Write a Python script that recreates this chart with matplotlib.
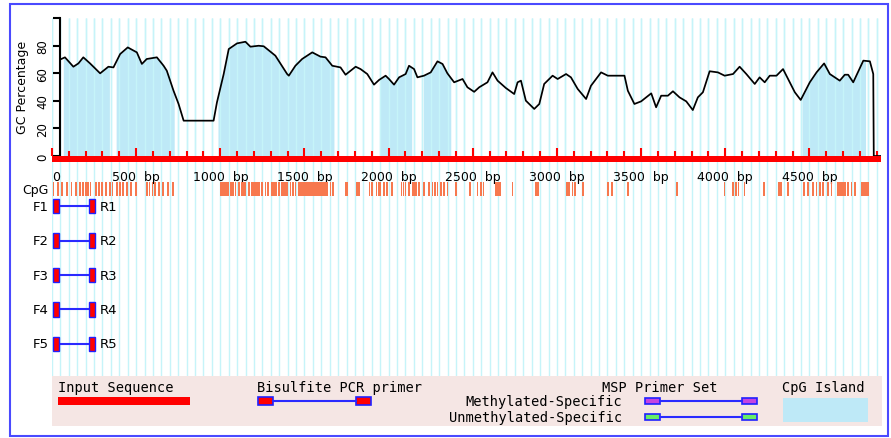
import numpy as np
import matplotlib
matplotlib.use("Agg")
import matplotlib.pyplot as plt
from matplotlib.patches import Rectangle

# ---- data ----
seq_len = 4925

# (position bp, GC %) along the sliding window
gc_profile = [
    (50, 70.0), (77, 71.5), (127, 64.7), (157, 67.1), (186, 71.5), (226, 67.1),
    (286, 59.9), (335, 64.7), (365, 64.2), (405, 73.9), (450, 78.7), (504, 75.1),
    (534, 66.7), (563, 70.3), (623, 71.5), (663, 65.4), (682, 61.8), (722, 47.3),
    (752, 37.7), (782, 25.6), (960, 25.6), (980, 38.9), (1020, 59.4), (1050, 77.5),
    (1099, 81.6), (1149, 82.8), (1179, 79.2), (1228, 79.9), (1258, 79.5), (1327, 72.7),
    (1397, 59.4), (1407, 58.2), (1446, 65.4), (1486, 70.3), (1546, 75.1), (1595, 72.0),
    (1625, 71.5), (1665, 65.4), (1714, 64.2), (1744, 58.9), (1804, 64.7), (1833, 63.0),
    (1873, 59.4), (1913, 51.7), (1943, 55.1), (1982, 58.2), (2002, 55.8), (2032, 51.7),
    (2062, 57.0), (2101, 59.4), (2121, 65.4), (2151, 63.0), (2171, 57.0), (2210, 58.2),
    (2250, 60.6), (2290, 68.6), (2320, 66.7), (2349, 59.9), (2389, 53.4), (2439, 55.8),
    (2468, 49.8), (2508, 46.5), (2538, 49.8), (2587, 53.4), (2617, 60.6), (2647, 54.6),
    (2696, 49.3), (2746, 44.9), (2766, 53.4), (2786, 54.6), (2815, 40.1), (2865, 34.1),
    (2895, 37.7), (2924, 52.2), (2974, 58.2), (3004, 55.8), (3054, 59.4), (3083, 57.0),
    (3123, 48.6), (3173, 41.3), (3202, 50.9), (3262, 60.6), (3302, 58.2), (3341, 58.2),
    (3401, 58.2), (3421, 47.3), (3460, 37.7), (3500, 39.6), (3560, 45.4), (3589, 35.3),
    (3619, 43.7), (3659, 43.7), (3689, 46.9), (3728, 42.5), (3768, 39.6), (3807, 33.3),
    (3837, 42.5), (3867, 46.2), (3907, 61.4), (3956, 60.6), (3996, 58.2), (4046, 59.4),
    (4085, 64.7), (4125, 59.4), (4175, 52.2), (4204, 57.0), (4234, 53.4), (4264, 58.2),
    (4304, 58.2), (4343, 63.0), (4373, 55.8), (4413, 46.2), (4448, 40.6), (4502, 53.4),
    (4542, 60.6), (4587, 67.1), (4621, 59.4), (4680, 54.6), (4710, 58.9), (4730, 58.9),
    (4760, 53.4), (4820, 69.1), (4859, 68.6), (4879, 59.4), (4882, 0.0), (4925, 0.0),
]

cpg_islands = [(67, 341), (381, 726), (986, 1675), (1948, 2137), (2206, 2369), (4456, 4833)]

cpg_sites = [
    8, 35, 60, 90, 115, 143, 167, 185, 202, 215, 228, 262, 280, 298, 322, 345, 360,
    387, 405, 423, 446, 470, 500, 565, 580, 597, 612, 637, 661, 690, 720,
    1006, 1016, 1026, 1036, 1046, 1065, 1075, 1090, 1109, 1129, 1139, 1150, 1169,
    1185, 1195, 1205, 1218, 1228, 1248, 1268, 1284, 1308, 1318, 1330, 1347, 1363,
    1373, 1385, 1397, 1417, 1430, 1446, 1466, 1476, 1486, 1496, 1506, 1516, 1526,
    1536, 1546, 1556, 1566, 1576, 1586, 1596, 1606, 1616, 1625, 1635, 1655, 1669,
    1744, 1754, 1813, 1823, 1887, 1903, 1927, 1942, 1952, 1972, 1992, 2018, 2077,
    2089, 2101, 2121, 2141, 2151, 2161, 2181, 2210, 2240, 2260, 2276, 2290, 2309,
    2329, 2349, 2399, 2485, 2528, 2548, 2564, 2637, 2651, 2663, 2736, 2875, 2889,
    3060, 3073, 3093, 3107, 3153, 3302, 3325, 3421, 3714, 3996, 4046, 4065, 4079,
    4115, 4228, 4318, 4330, 4373, 4468, 4492, 4522, 4542, 4561, 4581, 4611, 4631,
    4671, 4681, 4690, 4700, 4710, 4730, 4750, 4770, 4809, 4819, 4829, 4839, 4849,
]

primer_fwd = ["F1", "F2", "F3", "F4", "F5"]
primer_rev = ["R1", "R2", "R3", "R4", "R5"]
fwd_start = [6, 6, 6, 6, 6]
fwd_end = [42, 42, 42, 42, 42]
rev_start = [220, 220, 220, 220, 220]
rev_end = [256, 256, 256, 256, 256]

x_ticks = [0, 500, 1000, 1500, 2000, 2500, 3000, 3500, 4000, 4500]
x_tick_labels = ["0", "500  bp", "1000  bp", "1500  bp", "2000  bp", "2500  bp",
                 "3000  bp", "3500  bp", "4000  bp", "4500  bp"]
y_ticks = [0, 20, 40, 60, 80, 100]
y_tick_labels = ["0", "20", "40", "60", "80", ""]

# ---- colours ----
GRID = "#c6f4f9"
ISLAND = "#bee9f7"
CPG = "#f7784e"
LEGEND_BG = "#f5e6e4"

W, H = 891, 439
X0, X1 = 52, 881


def px_rect(x0, y0, x1, y1):
    return [x0 / W, 1 - y1 / H, (x1 - x0) / W, (y1 - y0) / H]


fig = plt.figure(figsize=(W / 100, H / 100), dpi=100)
fig.patch.set_facecolor("white")

grid_x = np.arange(0, seq_len, 50)

# background grid over the whole track area
ax_bg = fig.add_axes(px_rect(X0, 19, X1, 377))
ax_bg.set_xlim(0, seq_len)
ax_bg.set_ylim(0, 1)
ax_bg.vlines(grid_x, 0, 1, color=GRID, lw=1.0)
ax_bg.axis("off")

# GC content plot
gc_pos, gc_val = map(np.array, zip(*gc_profile))
ax_gc = fig.add_axes(px_rect(X0, 19, X1, 157))
ax_gc.patch.set_alpha(0)
ax_gc.set_xlim(0, seq_len)
ax_gc.set_ylim(0, 100)

edges = [e for isl in cpg_islands for e in isl]
xs = np.union1d(gc_pos, edges)
ys = np.interp(xs, gc_pos, gc_val)
for s, e in cpg_islands:
    m = (xs >= s) & (xs <= e)
    ax_gc.fill_between(xs[m], ys[m], 0, color=ISLAND, lw=0, zorder=1)
ax_gc.vlines(grid_x, 0, 100, color=GRID, lw=1.0, zorder=1.5)
ax_gc.plot(gc_pos, gc_val, color="black", lw=1.25, zorder=3)

for side in ["top", "right", "bottom"]:
    ax_gc.spines[side].set_visible(False)
ax_gc.spines["left"].set_position(("data", 50))
ax_gc.spines["left"].set_linewidth(1.5)

ax_gc.set_yticks(y_ticks)
ax_gc.set_yticklabels(y_tick_labels)
ax_gc.tick_params(axis="y", length=5, width=1.5, pad=3, labelsize=8.5, labelrotation=90)
for lab in ax_gc.get_yticklabels():
    lab.set_va("center")

ax_gc.set_xticks(x_ticks)
ax_gc.set_xticklabels(x_tick_labels)
ax_gc.set_xticks(np.arange(0, seq_len, 100), minor=True)
ax_gc.tick_params(axis="x", which="major", direction="in", length=5.5, width=1.5,
                  color="red", pad=10, labelsize=9)
ax_gc.tick_params(axis="x", which="minor", direction="in", length=3.5, width=1.5,
                  color="red")
ax_gc.get_xticklabels()[0].set_ha("left")

fig.text(23 / W, 1 - 87 / H, "GC Percentage", rotation=90, ha="center", va="center",
         fontsize=9)

# input sequence bar
ax_seq = fig.add_axes(px_rect(X0, 157, X1, 163))
ax_seq.barh([0], [seq_len], left=0, height=1, color="red")
ax_seq.set_xlim(0, seq_len)
ax_seq.set_ylim(-0.5, 0.5)
ax_seq.axis("off")

# CpG sites
ax_cpg = fig.add_axes(px_rect(X0, 183, X1, 197))
ax_cpg.bar(cpg_sites, 1, width=10, color=CPG, lw=0)
ax_cpg.set_xlim(0, seq_len)
ax_cpg.set_ylim(0, 1)
ax_cpg.axis("off")
ax_cpg.text(-0.004, 0.45, "CpG", transform=ax_cpg.transAxes, ha="right", va="center",
            fontsize=9)

# bisulfite primers
rows = np.arange(len(primer_fwd))
ax_pr = fig.add_axes(px_rect(X0, 190, X1, 362))
ax_pr.set_xlim(0, seq_len)
ax_pr.set_ylim(len(rows) - 0.5, -0.5)
ax_pr.axis("off")
ax_pr.hlines(rows, fwd_end, rev_start, color="#2a2aff", lw=1.5, zorder=1)
ax_pr.barh(rows, np.subtract(fwd_end, fwd_start), left=fwd_start, height=0.42,
           color="red", edgecolor="#2020ff", lw=1, zorder=2)
ax_pr.barh(rows, np.subtract(rev_end, rev_start), left=rev_start, height=0.42,
           color="red", edgecolor="#2020ff", lw=1, zorder=2)
for r, f, fs, rv, re in zip(rows, primer_fwd, fwd_start, primer_rev, rev_end):
    ax_pr.annotate(f, (fs, r), xytext=(-3, 0), textcoords="offset points",
                   ha="right", va="center", fontsize=9.5)
    ax_pr.annotate(rv, (re, r), xytext=(3, 0), textcoords="offset points",
                   ha="left", va="center", fontsize=9.5)

# legend panel (pixel coordinates)
ax_leg = fig.add_axes(px_rect(52, 377, 882, 427))
ax_leg.set_xlim(52, 882)
ax_leg.set_ylim(427, 377)
ax_leg.set_facecolor(LEGEND_BG)
ax_leg.set_xticks([])
ax_leg.set_yticks([])
for sp in ax_leg.spines.values():
    sp.set_visible(False)

mono = dict(family="DejaVu Sans Mono", fontsize=9.8, va="center")
ax_leg.text(58, 388, "Input Sequence", ha="left", **mono)
ax_leg.add_patch(Rectangle((58, 398), 132, 8, color="red", lw=0))

ax_leg.text(257, 388, "Bisulfite PCR primer", ha="left", **mono)
ax_leg.plot([273, 356], [402, 402], color="#2a2aff", lw=1.5)
for bx in (258, 356):
    ax_leg.add_patch(Rectangle((bx, 398), 14.5, 8, facecolor="red",
                               edgecolor="#2020ff", lw=1.2))

ax_leg.text(718, 388, "MSP Primer Set", ha="right", **mono)
ax_leg.text(622, 402, "Methylated-Specific", ha="right", **mono)
ax_leg.text(622, 418, "Unmethylated-Specific", ha="right", **mono)
for yy, fc in ((402, "#c545e0"), (418, "#66ee66")):
    ax_leg.plot([660, 742], [yy, yy], color="#2a2aff", lw=1.5)
    for bx in (645, 742):
        ax_leg.add_patch(Rectangle((bx, yy - 3), 15, 6, facecolor=fc,
                                   edgecolor="#2020ff", lw=1.2))

ax_leg.text(782, 388, "CpG Island", ha="left", **mono)
ax_leg.add_patch(Rectangle((783, 399), 85, 24, color=ISLAND, lw=0))

# outer blue frame
fig.add_artist(Rectangle((10 / W, 1 - 437 / H), 878 / W, 432 / H,
                         transform=fig.transFigure, fill=False,
                         edgecolor="#4a4aff", lw=1.5))

fig.savefig("out.png", dpi=100)
